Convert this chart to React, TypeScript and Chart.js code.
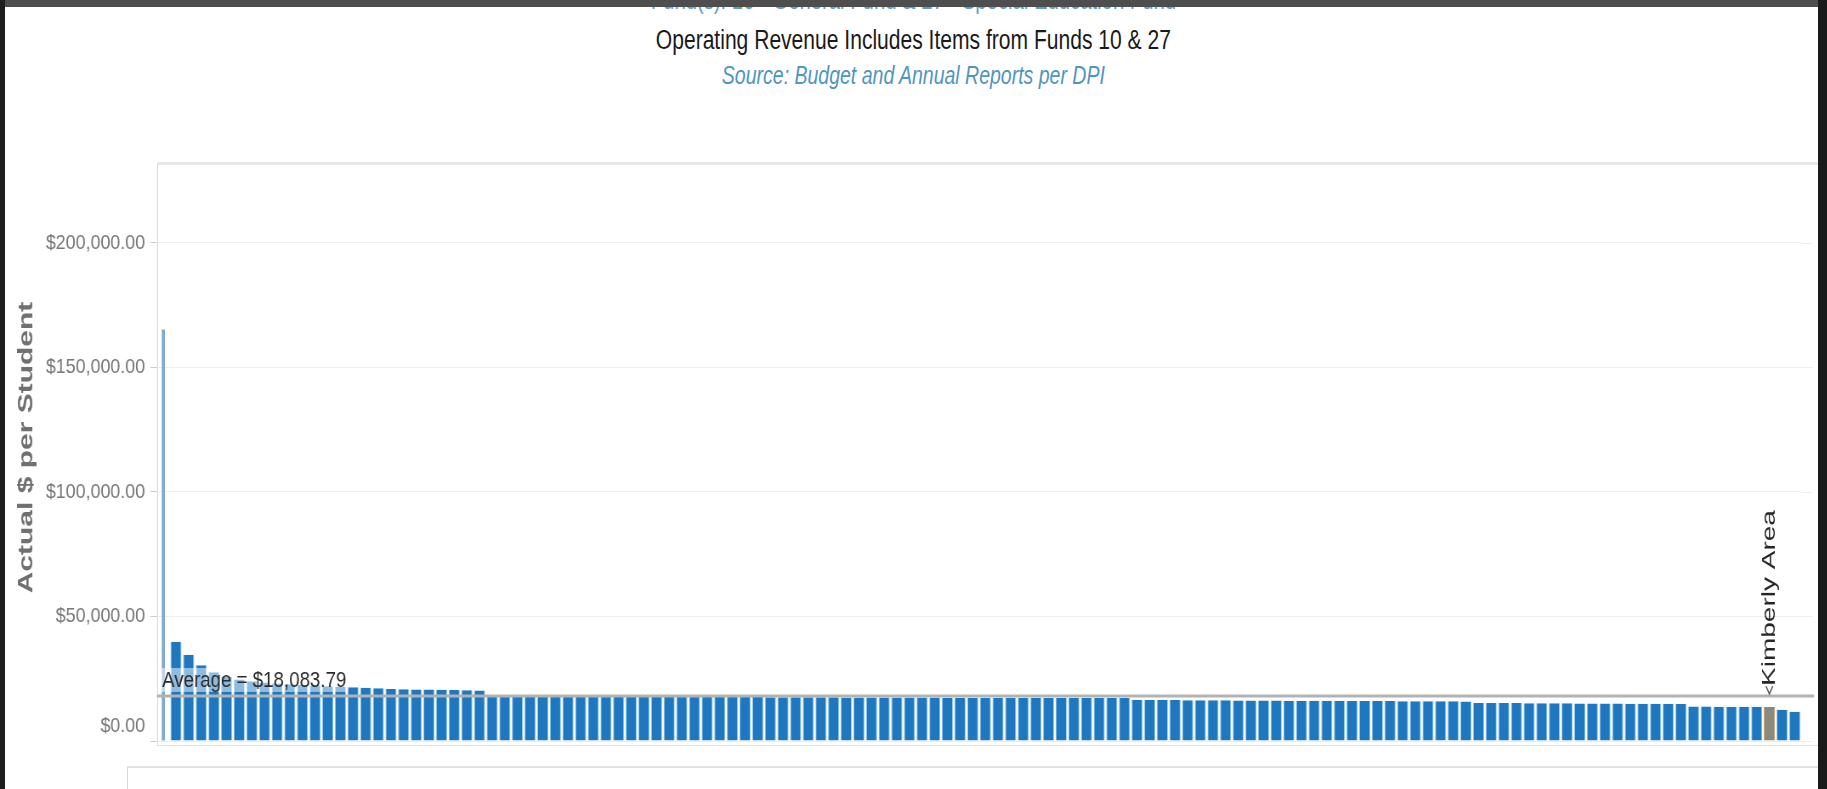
import React, { useEffect, useRef } from "react";
import { Chart, registerables } from "chart.js";

Chart.register(...registerables);

// ---------- data ----------
const fundTitle = "Fund(s): 10 - General Fund & 27 - Special Education Fund";
const mainTitle = "Operating Revenue Includes Items from Funds 10 & 27";
const sourceTitle = "Source: Budget and Annual Reports per DPI";
const yAxisTitle = "Actual $ per Student";
const averageLabel = "Average = $18,083.79";
const averageValue = 18083.79;
const highlightName = "Kimberly Area";
const yTickValues = [0, 50000, 100000, 150000, 200000];
const yMax = 231700;

// districts sorted by $ per student (descending)
const perStudentHigh = [
  165200, 39800, 34600, 30400, 27600, 25800, 24700, 24000, 23500, 23100,
  22800, 22500, 22300, 22000, 21800, 21600, 21400, 21200, 20900, 20800,
  20700, 20650, 20600, 20500, 20400, 20300,
];
const perStudentMid = [
  18000, 17980, 17940, 17930, 17900, 17890, 17850, 17850, 17830, 17800,
  17800, 17780, 17750, 17750, 17730, 17700, 17700, 17690, 17660, 17650,
  17640, 17620, 17600, 17590, 17570, 17560, 17540, 17530, 17500, 17500,
  17490, 17470, 17460, 17440, 17430, 17420, 17400, 17400, 17380, 17370,
  17350, 17350, 17330, 17320, 17300, 17300, 17290, 17270, 17260, 17250,
  17230,
];
const perStudentLow = [
  16500, 16480, 16450, 16420, 16400, 16380, 16350, 16330, 16300, 16280,
  16260, 16240, 16210, 16190, 16170, 16150, 16120, 16100, 16080, 16060,
  16040, 16010, 15990, 15970, 15950, 15920, 15900,
];
const perStudentLower = [
  15300, 15280, 15250, 15220, 15200, 15180, 15150, 15120, 15100, 15080,
  15050, 15020, 15000, 14980, 14950, 14920, 14900,
];
const perStudentLowest = [13900, 13850, 13800, 13780, 13750, 13720, 13700, 12500, 11700];
const highlightPosition = 127; // Kimberly Area's rank in the sorted list

const allValues = [
  ...perStudentHigh,
  ...perStudentMid,
  ...perStudentLow,
  ...perStudentLower,
  ...perStudentLowest,
];
const districtLabels = allValues.map((_, i) =>
  i === highlightPosition ? highlightName : `District ${i + 1}`
);

// ---------- layout ----------
const SX = 0.85; // the picture is squashed horizontally
const TSX = 0.78; // titles are squashed a bit more
const W = 1827;
const H = 789;
const CW = Math.round(W / SX);
const TW = Math.round(W / TSX);
const FONT = "'Liberation Sans', Arial, Helvetica, sans-serif";

const fmtMoney = (v: number) =>
  "$" + Number(v).toLocaleString("en-US", { minimumFractionDigits: 2, maximumFractionDigits: 2 });

const annotPlugin = {
  id: "annot",
  beforeDatasetsDraw(chart: any) {
    const { ctx, chartArea, scales } = chart;
    ctx.save();
    ctx.strokeStyle = "#eeeeee";
    ctx.lineWidth = 1;
    yTickValues.forEach((v) => {
      const y = Math.round(scales.y.getPixelForValue(v)) + 0.5;
      ctx.beginPath();
      ctx.moveTo(chartArea.right, y);
      ctx.lineTo(1813 / SX, y);
      ctx.stroke();
    });
    // the lowest tick label sits raised inside the pane, as in the original
    const y0 = scales.y.getPixelForValue(yTickValues[0]);
    ctx.font = `21px ${FONT}`;
    ctx.fillStyle = "#777777";
    ctx.textAlign = "right";
    ctx.textBaseline = "middle";
    ctx.fillText(fmtMoney(yTickValues[0]), chartArea.left - 14, y0 - 15);
    ctx.restore();
  },
  afterDatasetsDraw(chart: any) {
    const { ctx, chartArea, scales } = chart;
    const yAvg = scales.y.getPixelForValue(averageValue);
    ctx.save();
    // average reference line
    ctx.strokeStyle = "#b2b2b2";
    ctx.lineWidth = 3;
    ctx.beginPath();
    ctx.moveTo(chartArea.left, yAvg);
    ctx.lineTo(1814 / SX, yAvg);
    ctx.stroke();

    // average label
    ctx.font = `22px ${FONT}`;
    ctx.textBaseline = "alphabetic";
    ctx.textAlign = "left";
    const tw = ctx.measureText(averageLabel).width;
    ctx.fillStyle = "rgba(255,255,255,0.5)";
    ctx.fillRect(chartArea.left + 4, yAvg - 28, tw + 4, 24);
    ctx.fillStyle = "#2a2a2a";
    ctx.fillText(averageLabel, chartArea.left + 6, yAvg - 9);

    // highlight annotation
    const idx = districtLabels.indexOf(highlightName);
    const xh = scales.x.getPixelForValue(idx);
    ctx.save();
    ctx.translate(xh, yAvg - 10);
    ctx.rotate(-Math.PI / 2);
    ctx.scale(1, 0.8);
    ctx.font = `28px ${FONT}`;
    ctx.textBaseline = "middle";
    ctx.textAlign = "left";
    ctx.fillStyle = "#262626";
    ctx.fillText(highlightName, 0, 0);
    ctx.restore();
    ctx.strokeStyle = "#555555";
    ctx.lineWidth = 1.5;
    ctx.beginPath();
    ctx.moveTo(xh - 4, yAvg - 10);
    ctx.lineTo(xh, yAvg - 2);
    ctx.lineTo(xh + 4, yAvg - 10);
    ctx.stroke();

    // y-axis title
    ctx.save();
    ctx.translate(27 / SX, (chartArea.top + chartArea.bottom) / 2 - 5);
    ctx.rotate(-Math.PI / 2);
    ctx.scale(1, 0.8);
    ctx.font = `bold 30px ${FONT}`;
    ctx.textBaseline = "middle";
    ctx.textAlign = "center";
    ctx.fillStyle = "#707070";
    ctx.fillText(yAxisTitle, 0, 0);
    ctx.restore();

    ctx.restore();
  },
};

export default function App() {
  const ref = useRef<HTMLCanvasElement>(null);

  useEffect(() => {
    if (!ref.current) return;
    const mainData = allValues.map((v, i) => (i === 0 ? null : v));
    const leadData = allValues.map((v, i) => (i === 0 ? v : null));
    const chart = new Chart(ref.current, {
      type: "bar",
      data: {
        labels: districtLabels,
        datasets: [
          {
            label: "Actual $ per Student",
            data: mainData,
            backgroundColor: districtLabels.map((l) => (l === highlightName ? "#868a80" : "#1f77bf")),
            borderColor: districtLabels.map((l) => (l === highlightName ? "#cf8f3e" : "#8cc9ef")),
            borderWidth: { left: 1, right: 1, top: 0, bottom: 0 } as any,
            borderSkipped: false,
            barPercentage: 0.88,
            categoryPercentage: 1,
            grouped: false,
          } as any,
          {
            label: "lead",
            data: leadData,
            backgroundColor: "#7eaad0",
            barPercentage: 0.25,
            categoryPercentage: 1,
            grouped: false,
          } as any,
        ],
      },
      options: {
        animation: false,
        responsive: false,
        devicePixelRatio: 1,
        layout: { padding: { top: 164, bottom: H - 741, left: 0, right: CW - 1801 / SX } },
        plugins: { legend: { display: false }, tooltip: { enabled: false }, title: { display: false } },
        scales: {
          x: { display: false, offset: true },
          y: {
            min: 0,
            max: yMax,
            afterBuildTicks: (scale: any) => {
              scale.ticks = yTickValues.map((v) => ({ value: v }));
            },
            afterFit: (scale: any) => {
              scale.width = 157 / SX;
            },
            ticks: {
              callback: (v: any) => (Number(v) === yTickValues[0] ? "" : fmtMoney(Number(v))),
              font: { family: FONT, size: 21 },
              color: "#777777",
              padding: 6,
            },
            grid: { color: "#eeeeee", tickColor: "#cccccc", tickLength: 8, lineWidth: 1 },
            border: { display: false },
          },
        },
      },
      plugins: [annotPlugin],
    });
    return () => chart.destroy();
  }, []);

  const titleBase: React.CSSProperties = {
    position: "absolute",
    left: 0,
    width: TW,
    textAlign: "center",
    fontFamily: FONT,
    whiteSpace: "nowrap",
  };

  return (
    <div style={{ position: "fixed", left: 0, top: 0, width: W, height: H, background: "#1c1c1c", overflow: "hidden" }}>
      <div style={{ position: "absolute", left: 5, top: 0, width: 1813, height: H, background: "#ffffff" }} />
      {/* pane frame */}
      <div
        style={{
          position: "absolute",
          left: 157,
          top: 162,
          width: 1660,
          height: 580,
          borderLeft: "1px solid #dddddd",
          borderRight: "1px solid #dddddd",
          borderBottom: "1px solid #e2e2e2",
          borderTop: "3px solid #e8e8e8",
        }}
      />
      <div
        style={{
          position: "absolute",
          left: 127,
          top: 766,
          width: 1690,
          height: 40,
          borderTop: "2px solid #e2e2e2",
          borderLeft: "1px solid #d8d8d8",
          borderRight: "1px solid #dddddd",
        }}
      />
      {/* titles */}
      <div
        style={{
          position: "absolute",
          left: 0,
          top: 0,
          width: TW,
          height: 120,
          transform: `scaleX(${TSX})`,
          transformOrigin: "0 0",
        }}
      >
        <div style={{ ...titleBase, top: -14, fontSize: 26, lineHeight: "28px", color: "#5a9fc8" }}>{fundTitle}</div>
        <div style={{ ...titleBase, top: 25, fontSize: 27, lineHeight: "30px", color: "#1a1a1a" }}>{mainTitle}</div>
        <div style={{ ...titleBase, top: 61, fontSize: 25, lineHeight: "28px", color: "#4f95bd", fontStyle: "italic" }}>
          {sourceTitle}
        </div>
      </div>
      {/* chart */}
      <div
        style={{
          position: "absolute",
          left: 0,
          top: 0,
          width: CW,
          height: H,
          transform: `scaleX(${SX})`,
          transformOrigin: "0 0",
        }}
      >
        <canvas
          ref={ref}
          width={CW}
          height={H}
          style={{ position: "absolute", left: 0, top: 0, width: CW, height: H }}
        />
      </div>
      {/* dark surround */}
      <div style={{ position: "absolute", left: 0, top: 0, width: W, height: 7, background: "#4e4e4e" }} />
      <div style={{ position: "absolute", left: 0, top: 0, width: 5, height: H, background: "#1e1e1e" }} />
      <div style={{ position: "absolute", left: 1818, top: 0, width: 9, height: H, background: "#1a1a1a" }} />
    </div>
  );
}
